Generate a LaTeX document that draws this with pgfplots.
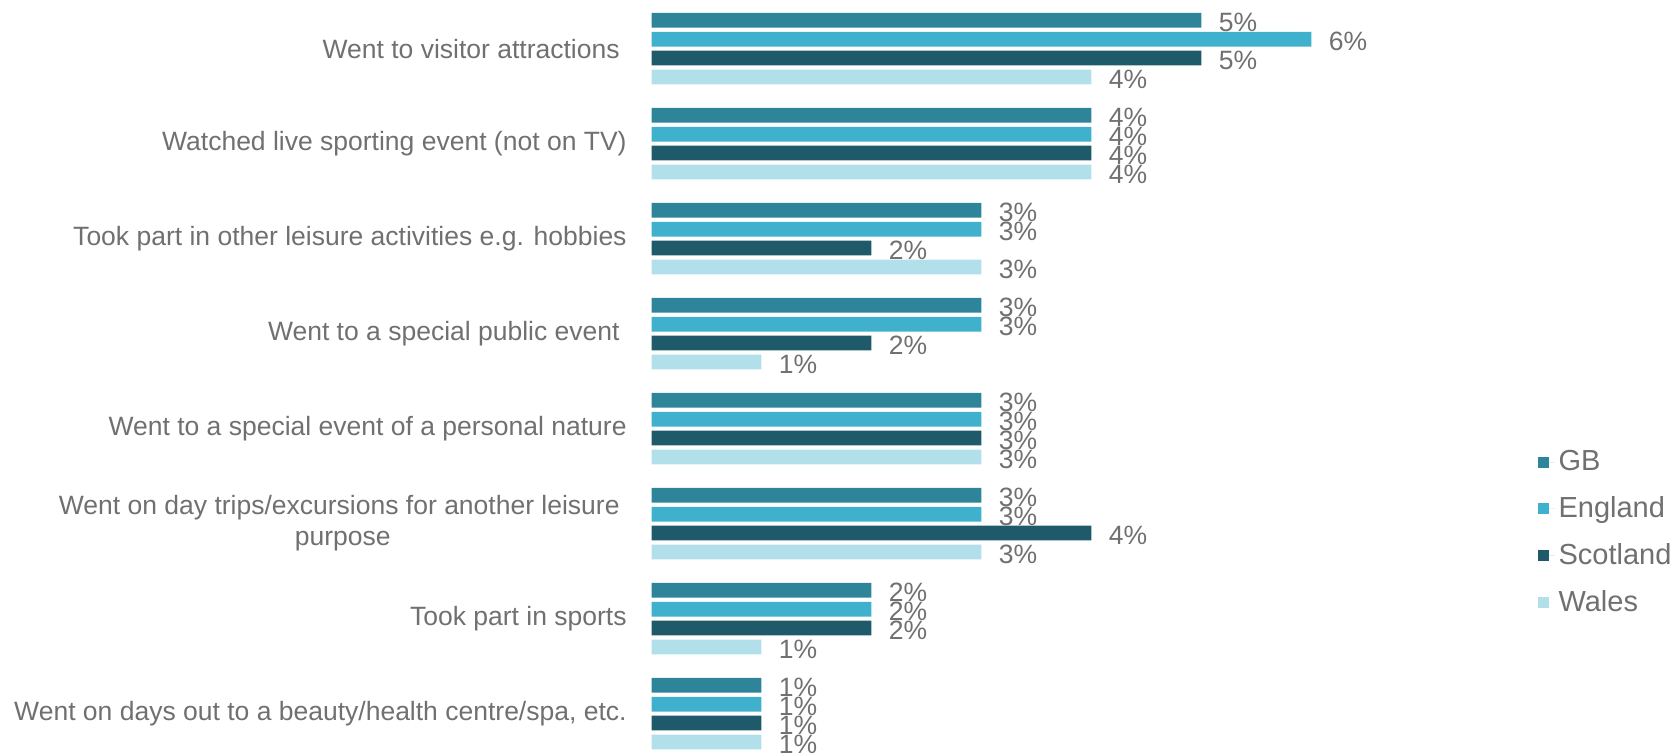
\documentclass[border=0pt]{standalone}
\usepackage{pgfplots}
\pgfplotsset{compat=1.18}
\usepackage{pgfplotstable}
\usepackage{fontspec}
\setmainfont{Liberation Sans}
\definecolor{cGB}{RGB}{46,132,153}
\definecolor{cEng}{RGB}{63,177,204}
\definecolor{cSco}{RGB}{30,90,106}
\definecolor{cWal}{RGB}{178,224,234}
\definecolor{txt}{RGB}{112,112,112}
\pgfplotstableread{
GB Eng Sco Wal
5 6 5 4
4 4 4 4
3 3 2 3
3 3 2 1
3 3 3 3
3 3 4 3
2 2 2 1
1 1 1 1
}\data
\begin{document}
\begin{tikzpicture}
\begin{axis}[
  at={(325.75pt,0pt)}, anchor=south west,
  scale only axis, width=385pt, height=377pt,
  xmin=0, xmax=7, ymin=-0.512, ymax=7.425, y dir=reverse,
  xbar, bar width=7.4pt, bar shift=0pt,
  clip=false,
  axis line style={draw=none}, major tick length=0pt,
  xtick=\empty,
  ytick={0,...,7},
  yticklabels={{Went to visitor attractions\hspace*{3.5pt}},
    {Watched live sporting event (not on TV)},
    {Took part in other leisure activities e.g. hobbies},
    {Went to a special public event\hspace*{3.5pt}},
    {Went to a special event of a personal nature},
    {Went on day trips/excursions for another leisure\hspace*{3.5pt}\\purpose},
    {Took part in sports},
    {Went on days out to a beauty/health centre/spa, etc.}},
  yticklabel style={font=\fontsize{13.25}{15.5}\selectfont, text=txt, align=center, anchor=east, inner sep=0pt, xshift=-12.25pt},
  point meta=x,
  /pgf/number format/assume math mode=true,
  nodes near coords={\pgfmathprintnumber{\pgfplotspointmeta}\%},
  nodes near coords style={anchor=west, inner sep=0pt, xshift=8.5pt, yshift=-1pt, font=\fontsize{13.25}{15.5}\selectfont, text=txt},
  legend style={at={(1.151,0.294)}, anchor=west, draw=none, fill=none, font=\fontsize{14.5}{17}\selectfont, text=txt, row sep=7.4pt, inner sep=0pt, legend cell align=left},
  legsq/.style={legend image code/.code={\fill[##1] (0pt,-2.75pt) rectangle (5.5pt,2.75pt); \path (0pt,0pt) -- (8.2pt,0pt);}},
]
\addplot[fill=cGB, draw=none, legsq] table[x=GB, y expr=\coordindex-0.2985] \data;
\addplot[fill=cEng, draw=none, legsq] table[x=Eng, y expr=\coordindex-0.0995] \data;
\addplot[fill=cSco, draw=none, legsq] table[x=Sco, y expr=\coordindex+0.0995] \data;
\addplot[fill=cWal, draw=none, legsq] table[x=Wal, y expr=\coordindex+0.2985] \data;
\legend{GB, England, Scotland, Wales}
\end{axis}
\pgfresetboundingbox
\path[use as bounding box] (0,0) rectangle (837.5pt,377pt);
\end{tikzpicture}
\end{document}
